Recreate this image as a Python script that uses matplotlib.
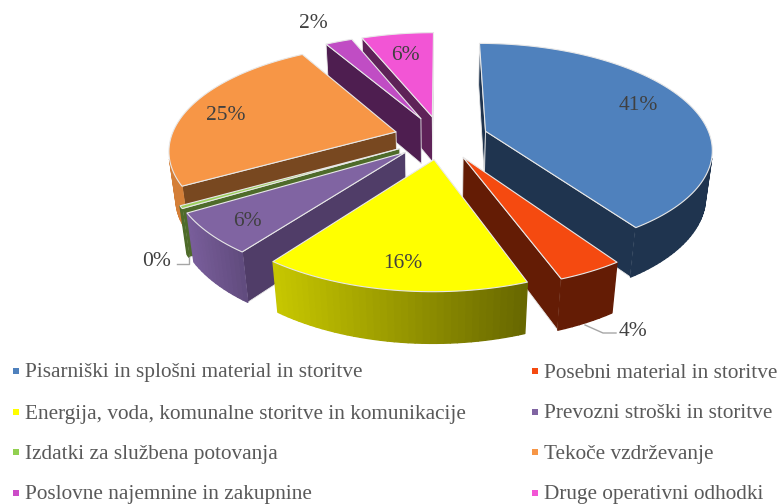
import numpy as np
import matplotlib
matplotlib.use('Agg')
import matplotlib.pyplot as plt
from matplotlib.patches import Polygon

plt.rcParams['font.family'] = ['Liberation Serif', 'DejaVu Serif']

labels = ['Pisarniški in splošni material in storitve', 'Posebni material in storitve',
          'Energija, voda, komunalne storitve in komunikacije', 'Prevozni stroški in storitve',
          'Izdatki za službena potovanja', 'Tekoče vzdrževanje',
          'Poslovne najemnine in zakupnine', 'Druge operativni odhodki']
values = [40.5, 3.9, 15.8, 6.2, 0.4, 24.8, 2.3, 6.1]
pct_text = ['41%', '4%', '16%', '6%', '0%', '25%', '2%', '6%']

top_colors = ['#4F81BD', '#F54A10', '#FFFF00', '#8064A2', '#9BD05C', '#F79646', '#C04DC4', '#F255D5']
wall_colors = ['#1F344F', '#641C05', '#5F5F00', '#503D68', '#4E6B2A', '#784820', '#4E1E50', '#5E2258']
arc_left = ['#1F344F', '#641C05', '#C8C800', '#7A5F9C', '#4E6B2A', '#D47F38', '#4E1E50', '#5E2258']
arc_right = ['#1F344F', '#641C05', '#666600', '#5F4A7C', '#4E6B2A', '#D47F38', '#4E1E50', '#5E2258']
legend_colors = ['#4F81BD', '#F54A10', '#FFFF00', '#8064A2', '#92D050', '#F79646', '#CC4CC8', '#F255D5']

# pixel positions of the text
label_pos = [(638, 106), (633, 331), (403, 264), (247, 222), (157, 261), (226, 115), (313, 24), (405, 55)]
legend_x = [16, 535]
legend_y = [371, 412, 452, 493]

# fake 3d camera
cx, cy = 441, 137.5
R = 225
explode = 47
depth = 47
p = 0.0007
q = 0.46
pz = 0.025


def proj(X, Y, z=0):
    w = 1 + p * Y + pz * z
    return cx + X / w, cy - (q * Y - depth * z) / w


def to_rgb(c):
    return np.array(matplotlib.colors.to_rgb(c))


fig = plt.figure(figsize=(7.8, 5.04), dpi=100)
ax = fig.add_axes([0, 0, 1, 1])
ax.set_xlim(0, 780)
ax.set_ylim(504, 0)
ax.axis('off')

total = sum(values)
edges = np.concatenate([[0], np.cumsum(values)]) / total * 2 * np.pi
edge_col = '#E8E8E8'


def quad(pts, fc, order, ec=None, lw=1.0):
    ax.add_patch(Polygon(pts, closed=True, fc=fc, ec=ec if ec else fc, lw=lw, zorder=order, joinstyle='round'))


def facing(pts):
    # screen is y down, so clockwise on screen has positive shoelace
    x, y = np.array(pts).T
    return 0.5 * np.sum(x * np.roll(y, -1) - np.roll(x, -1) * y) > 0


draw_order = [7, 6, 5, 4, 3, 0, 1, 2]
for rank, i in enumerate(draw_order):
    a0, a1 = edges[i], edges[i + 1]
    mid = (a0 + a1) / 2
    ox, oy = explode * np.sin(mid), explode * np.cos(mid)
    ang = np.linspace(a0, a1, max(3, int((a1 - a0) * 40)))
    X = ox + R * np.sin(ang)
    Y = oy + R * np.cos(ang)
    base = rank * 10 + 1

    # radial walls
    top_a = proj(ox, oy)
    bot_a = proj(ox, oy, 1)
    for k, s in [(0, -1), (-1, 1)]:
        t = proj(X[k], Y[k])
        b = proj(X[k], Y[k], 1)
        pts = [top_a, t, b, bot_a][::s]
        if facing(pts):
            quad(pts, wall_colors[i], base, ec=edge_col, lw=0.6)

    # outer wall, split in strips so that the colour can run across
    xt, yt = proj(X, Y)
    xb, yb = proj(X, Y, 1)
    vis = []
    for j in range(len(ang) - 1):
        pts = [(xt[j], yt[j]), (xb[j], yb[j]), (xb[j + 1], yb[j + 1]), (xt[j + 1], yt[j + 1])]
        if facing(pts):
            vis.append((j, pts))
    if vis:
        x_all = np.concatenate([xt, xb])
        for j, pts in vis:
            f = (np.mean([c[0] for c in pts]) - x_all.min()) / (x_all.max() - x_all.min())
            col = to_rgb(arc_left[i]) * (1 - f) + to_rgb(arc_right[i]) * f
            quad(pts, col, base + 1)

    # top face
    quad([top_a] + list(zip(xt, yt)), top_colors[i], base + 2, ec=edge_col, lw=0.8)

for i, (x, y) in enumerate(label_pos):
    ax.text(x, y, pct_text[i], ha='center', va='center', fontsize=15.5, color='#404040', zorder=200)

ax.plot([177, 189, 189], [264, 264, 257], color='#A6A6A6', lw=1, zorder=150)
ax.plot([585, 603, 616], [325, 333, 333], color='#A6A6A6', lw=1, zorder=150)

for i, lab in enumerate(labels):
    x = legend_x[i % 2]
    y = legend_y[i // 2]
    ax.scatter([x], [y], marker='s', s=20, color=legend_colors[i], linewidths=0, zorder=200)
    ax.text(x + 9, y + 2, lab, ha='left', va='center', fontsize=15.3, color='#595959', zorder=200)

fig.savefig('out.png', dpi=100)
